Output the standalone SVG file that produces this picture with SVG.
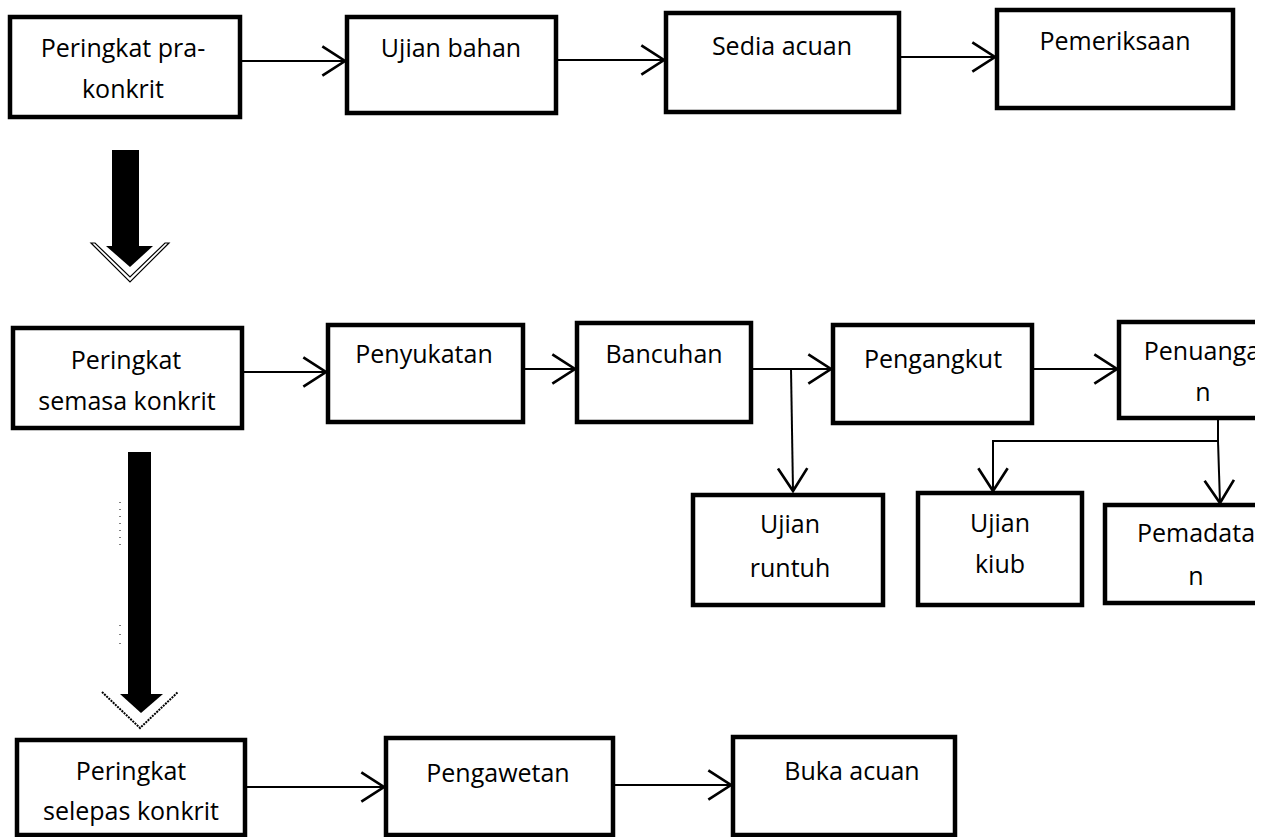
<svg xmlns="http://www.w3.org/2000/svg" width="1276" height="837" viewBox="0 0 1276 837">
<style>
.box{fill:#fff;stroke:#000;stroke-width:4.5}
.t{font-family:"Open Sans","Noto Sans","Liberation Sans",sans-serif;font-size:25px;fill:#000;text-anchor:middle}
.c{fill:none;stroke:#000;stroke-width:2}
</style>
<defs>
<marker id="ah" markerUnits="userSpaceOnUse" markerWidth="40" markerHeight="40" viewBox="-20 -15 24 30" refX="0" refY="0" orient="auto">
<path d="M-17,-11 L0,0 L-17,11" fill="none" stroke="#000" stroke-width="2"/>
</marker>
<clipPath id="edge"><rect x="0" y="0" width="1255" height="837"/></clipPath>
</defs>
<rect width="1276" height="837" fill="#fff"/>

<g id="connectors">
<path class="c" d="M242,61 H345" marker-end="url(#ah)"/>
<path class="c" d="M556,60 H664" marker-end="url(#ah)"/>
<path class="c" d="M899,57 H995" marker-end="url(#ah)"/>
<path class="c" d="M242,372 H326" marker-end="url(#ah)"/>
<path class="c" d="M523,369 H575" marker-end="url(#ah)"/>
<path class="c" d="M751,369 H831" marker-end="url(#ah)"/>
<path class="c" d="M791,369 L793,491" marker-end="url(#ah)"/>
<path class="c" d="M1032,369 H1117" marker-end="url(#ah)"/>
<path class="c" d="M1218,418 V441 H993 V491" marker-end="url(#ah)"/>
<path class="c" d="M1218,441 L1220,503" marker-end="url(#ah)"/>
<path class="c" d="M245,787 H384" marker-end="url(#ah)"/>
<path class="c" d="M613,785 H731" marker-end="url(#ah)"/>
</g>

<g id="stage-arrow-1">
<rect x="112" y="150" width="27" height="97" fill="#000"/>
<polygon points="106,246 153,246 130,267" fill="#000"/>
<polygon points="91,243 130,282 169,243 165,243 130,277 95,243" fill="#fff" stroke="#000" stroke-width="1.2"/>
</g>
<g id="stage-arrow-2">
<rect x="128" y="452" width="23" height="243" fill="#000"/>
<polygon points="120,694 163,694 141,713" fill="#000"/>
<polyline points="102,692 140,728 178,692" fill="none" stroke="#000" stroke-width="2" stroke-dasharray="2,1"/>
<line x1="120" y1="502" x2="120" y2="546" stroke="#000" stroke-width="1" stroke-dasharray="1,6"/>
<line x1="120" y1="625" x2="120" y2="648" stroke="#000" stroke-width="1" stroke-dasharray="1,8"/>
</g>

<g id="n-pra">
<rect class="box" x="10" y="17" width="230" height="100"/>
<text class="t" x="123" y="57">Peringkat pra-</text>
<text class="t" x="123" y="98">konkrit</text>
</g>
<g id="n-ujian-bahan">
<rect class="box" x="347" y="17" width="209" height="96"/>
<text class="t" x="451" y="57">Ujian bahan</text>
</g>
<g id="n-sedia-acuan">
<rect class="box" x="666" y="13" width="233" height="99"/>
<text class="t" x="782" y="55">Sedia acuan</text>
</g>
<g id="n-pemeriksaan">
<rect class="box" x="997" y="10" width="236" height="98"/>
<text class="t" x="1115" y="50">Pemeriksaan</text>
</g>

<g id="n-semasa">
<rect class="box" x="13" y="328" width="229" height="100"/>
<text class="t" x="126" y="369">Peringkat</text>
<text class="t" x="127" y="410">semasa konkrit</text>
</g>
<g id="n-penyukatan">
<rect class="box" x="328" y="325" width="195" height="97"/>
<text class="t" x="424" y="363">Penyukatan</text>
</g>
<g id="n-bancuhan">
<rect class="box" x="577" y="323" width="174" height="99"/>
<text class="t" x="664" y="363">Bancuhan</text>
</g>
<g id="n-pengangkut">
<rect class="box" x="833" y="325" width="199" height="98"/>
<text class="t" x="933" y="368">Pengangkut</text>
</g>
<g id="n-penuangan" clip-path="url(#edge)">
<rect class="box" x="1119" y="322" width="180" height="96"/>
<text class="t" x="1202" y="360">Penuanga</text>
<text class="t" x="1203" y="401">n</text>
</g>
<g id="n-ujian-runtuh">
<rect class="box" x="693" y="495" width="190" height="110"/>
<text class="t" x="790" y="533">Ujian</text>
<text class="t" x="790" y="577">runtuh</text>
</g>
<g id="n-ujian-kiub">
<rect class="box" x="918" y="493" width="164" height="112"/>
<text class="t" x="1000" y="532">Ujian</text>
<text class="t" x="1000" y="573">kiub</text>
</g>
<g id="n-pemadatan" clip-path="url(#edge)">
<rect class="box" x="1105" y="505" width="190" height="98"/>
<text class="t" x="1196" y="542">Pemadata</text>
<text class="t" x="1196" y="585">n</text>
</g>

<g id="n-selepas">
<rect class="box" x="17" y="740" width="228" height="95"/>
<text class="t" x="131" y="780">Peringkat</text>
<text class="t" x="131" y="820">selepas konkrit</text>
</g>
<g id="n-pengawetan">
<rect class="box" x="386" y="738" width="227" height="97"/>
<text class="t" x="498" y="782">Pengawetan</text>
</g>
<g id="n-buka-acuan">
<rect class="box" x="733" y="737" width="222" height="98"/>
<text class="t" x="852" y="780">Buka acuan</text>
</g>
</svg>
